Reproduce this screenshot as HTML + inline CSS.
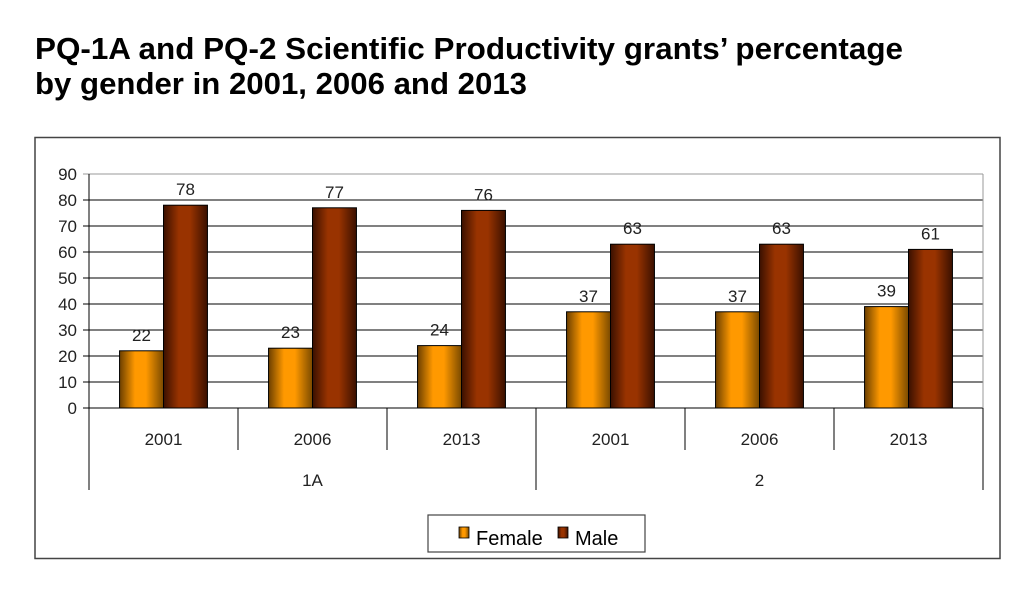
<!DOCTYPE html>
<html><head><meta charset="utf-8"><style>
body{margin:0;background:#fff;width:1034px;height:596px;overflow:hidden}
svg{display:block;font-family:"Liberation Sans",Arial,sans-serif}
</style></head><body>
<svg id="chart" width="1034" height="596" viewBox="0 0 1034 596">
<defs>
<linearGradient id="gF" x1="0" x2="1"><stop offset="0" stop-color="#6b3f00"/><stop offset="0.35" stop-color="#ff9900"/><stop offset="0.6" stop-color="#ff9900"/><stop offset="1" stop-color="#7a4a00"/></linearGradient>
<linearGradient id="gM" x1="0" x2="1"><stop offset="0" stop-color="#3a1000"/><stop offset="0.35" stop-color="#993300"/><stop offset="0.6" stop-color="#993300"/><stop offset="1" stop-color="#3a1000"/></linearGradient>
</defs>
<text x="35" y="59" font-size="31" font-weight="bold" fill="#000" textLength="868" lengthAdjust="spacingAndGlyphs">PQ-1A and PQ-2 Scientific Productivity grants’ percentage</text>
<text x="35" y="94" font-size="31" font-weight="bold" fill="#000" textLength="492" lengthAdjust="spacingAndGlyphs">by gender in 2001, 2006 and 2013</text>
<rect x="35" y="137.5" width="965" height="421" fill="none" stroke="#444" stroke-width="1.5"/>
<g id="plot"></g>
<g>
<rect x="428" y="515" width="217" height="37" fill="#fff" stroke="#444" stroke-width="1.2"/>
<rect x="459" y="527" width="10" height="11" fill="url(#gF)" stroke="#000" stroke-width="0.8"/>
<text x="476" y="545" font-size="20">Female</text>
<rect x="558" y="527" width="10" height="11" fill="url(#gM)" stroke="#000" stroke-width="0.8"/>
<text x="575" y="545" font-size="20">Male</text>
</g>
</svg>
<script>
const years=["2001","2006","2013","2001","2006","2013"];
const groups=["1A","2"];
const female=[22,23,24,37,37,39];
const male=[78,77,76,63,63,61];
const yTicks=[0,10,20,30,40,50,60,70,80,90];
const NS="http://www.w3.org/2000/svg";
const g=document.getElementById("plot");
const x0=89,x1=983,yBase=408,yTop=174,yMax=90;
const y=v=>yBase-(v/yMax)*(yBase-yTop);
const cw=(x1-x0)/years.length;
function el(t,a,txt){const e=document.createElementNS(NS,t);for(const k in a)e.setAttribute(k,a[k]);if(txt!==undefined)e.textContent=txt;g.appendChild(e);return e;}
yTicks.forEach(v=>{
 const l=el("line",{x1:x0-6,x2:x1,y1:y(v),y2:y(v),stroke:v===yMax?"#999":"#000","stroke-width":1});
 
 
 const t=el("text",{x:x0-12,y:y(v)+6,"font-size":17,"text-anchor":"end",fill:"#222"},v);
 
 
});
const rb=el("line",{x1:x1,x2:x1,y1:yTop,y2:yBase,stroke:"#999"});


const ya=el("line",{x1:x0,x2:x0,y1:yTop,y2:490,stroke:"#000"});


const bw=cw*0.295;
years.forEach((yr,i)=>{
 const cx=x0+cw*i+cw/2;
 const bf=el("rect",{x:cx-bw,y:y(female[i]),width:bw,height:yBase-y(female[i]),fill:"url(#gF)",stroke:"#000","stroke-width":1});
 
 
 const bm=el("rect",{x:cx,y:y(male[i]),width:bw,height:yBase-y(male[i]),fill:"url(#gM)",stroke:"#000","stroke-width":1});
 
 
 const lf=el("text",{x:cx-bw/2,y:y(female[i])-10,"font-size":17,"text-anchor":"middle",fill:"#222"},female[i]);
 
 
 const lm=el("text",{x:cx+bw/2,y:y(male[i])-10,"font-size":17,"text-anchor":"middle",fill:"#222"},male[i]);
 
 
 const yl=el("text",{x:cx,y:445,"font-size":17,"text-anchor":"middle",fill:"#222"},yr);
 
 
 const sep=x0+cw*(i+1);
 const tall=(i+1)%3===0;
 const d=el("line",{x1:sep,x2:sep,y1:yBase,y2:tall?490:450,stroke:"#000"});
 
 
});
groups.forEach((gr,j)=>{
 const t=el("text",{x:x0+cw*3*j+cw*1.5,y:486,"font-size":17,"text-anchor":"middle",fill:"#222"},gr);
 
 
});
</script>
</body></html>
